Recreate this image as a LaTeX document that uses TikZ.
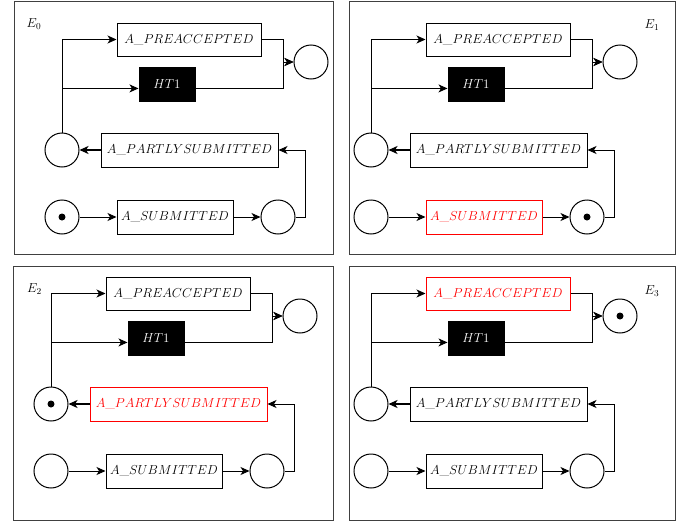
\RequirePackage{fix-cm}
\documentclass[tikz,border=0pt]{standalone}
\usetikzlibrary{arrows.meta,calc}
\tikzset{
  x=1pt, y=-1pt,
  lbl/.style={font=\fontsize{13}{15}\selectfont},
  place/.style={circle,draw,line width=1pt,minimum size=34pt,inner sep=0pt},
  trans/.style={draw,line width=1pt,minimum height=34pt,inner sep=0pt,lbl},
  plain/.style={},
  fired/.style={draw=red,text=red},
  hidden/.style={fill=black,text=white},
  token/.style={circle,fill=black,inner sep=0pt,minimum size=7pt},
  arc/.style={line width=1pt,-{Stealth[length=9pt,width=8pt,inset=2.5pt]}},
  thickarc/.style={line width=1.8pt,-{Stealth[length=9pt,width=8pt,inset=2.5pt]}},
  frame/.style={draw=black!75,line width=1pt},
}
% #1 prefix, #2 shift, #3 PRE style, #4 PS style, #5 SUB style
\newcommand\petrinet[5]{%
\begin{scope}[shift={#2}]
  \node[place] (#1P) at (0,0) {};
  \node[trans,#3,minimum width=144pt,minimum height=33pt] (#1PRE) at (127,-110.5) {$A\_PREACCEPTED$};
  \node[trans,hidden,minimum width=56pt] (#1HT) at (105,-66) {$HT1$};
  \node[place] (#1T) at (249,-88) {};
  \node[trans,#4,minimum width=177pt] (#1PS) at (127.5,0) {$A\_PARTLYSUBMITTED$};
  \node[place] (#1B1) at (0,67) {};
  \node[trans,#5,minimum width=116pt] (#1SUB) at (113,67) {$A\_SUBMITTED$};
  \node[place] (#1B2) at (216,67) {};
  \coordinate (#1J) at (221,-88);
  \coordinate (#1L) at (243,0);
  \draw[arc] (#1P.north) |- (#1PRE.west);
  \draw[arc] (#1P.north) |- (#1HT.base west);
  \draw[arc] (#1PRE.east) -| (#1J) -- (#1T.west);
  \draw[arc] (#1HT.base east) -| (#1J) -- (#1T.west);
  \draw[thickarc] (#1PS.west) -- (#1P.east);
  \draw[arc] (#1B1.east) -- (#1SUB.west);
  \draw[arc] (#1SUB.east) -- (#1B2.west);
  \draw[arc] (#1B2.east) -| (#1L) -- (#1PS.east);
\end{scope}}
\begin{document}
\begin{tikzpicture}
  \useasboundingbox (0,0) rectangle (689,525);
  % frames
  \draw[frame] (14,1) rectangle (333,254);
  \draw[frame] (349,1) rectangle (675,254);
  \draw[frame] (13,266) rectangle (333,520);
  \draw[frame] (349,266) rectangle (675,520);
  % labels
  \node[lbl] (l0) at (34,24) {$E_0$};
  \node[lbl] (l1) at (652,25) {$E_1$};
  \node[lbl] (l2) at (34.5,289) {$E_2$};
  \node[lbl] (l3) at (652,291) {$E_3$};
  % nets
  \petrinet{a}{(62,150)}{plain}{plain}{plain}
  \petrinet{b}{(371,150)}{plain}{plain}{fired}
  \petrinet{c}{(51,404)}{plain}{fired}{plain}
  \petrinet{d}{(371,404)}{fired}{plain}{plain}
  % tokens
  \node[token] (ta) at (aB1) {};
  \node[token] (tb) at (bB2) {};
  \node[token] (tc) at (cP) {};
  \node[token] (td) at (dT) {};
\end{tikzpicture}
\end{document}
